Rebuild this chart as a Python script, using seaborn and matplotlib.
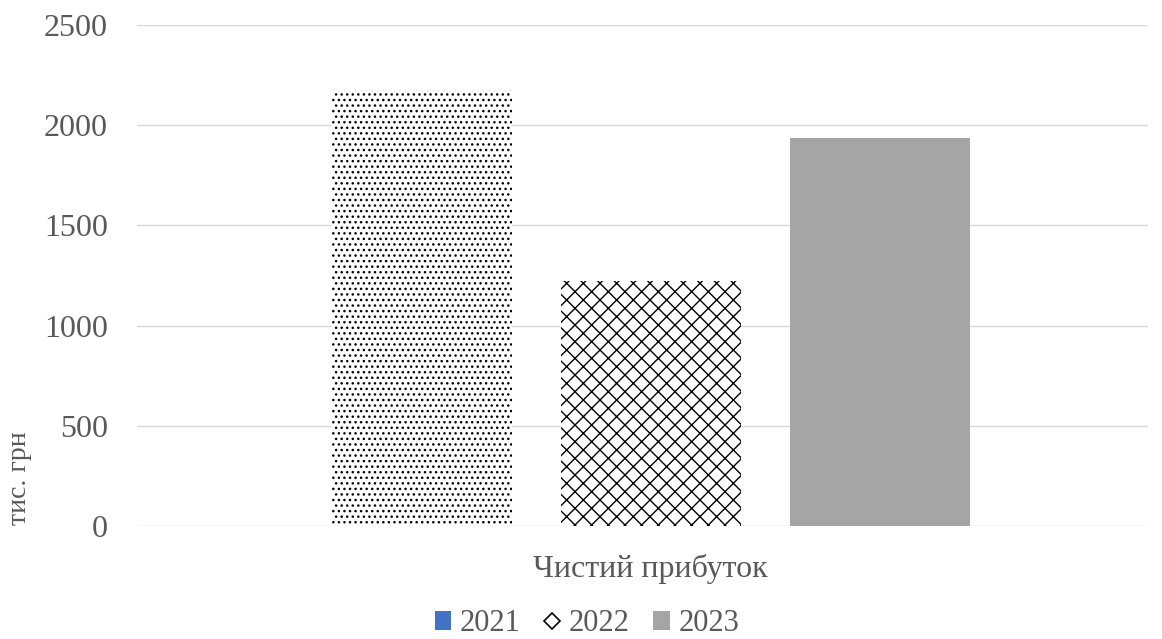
import matplotlib
matplotlib.use("Agg")
import matplotlib.pyplot as plt
import seaborn as sns
import pandas as pd
from matplotlib.lines import Line2D
from matplotlib.patches import Patch

category = ["Чистий прибуток"]
years = ["2021", "2022", "2023"]
values = [2176, 1225, 1935]
y_ticks = [0, 500, 1000, 1500, 2000, 2500]

df = pd.DataFrame({"cat": category * 3, "year": years, "value": values})

sns.set_theme(style="white")
plt.rcParams["font.family"] = ["Liberation Serif", "DejaVu Serif"]
plt.rcParams["hatch.linewidth"] = 1.0
plt.rcParams["hatch.color"] = "black"

fig = plt.figure(figsize=(11.62, 6.39), dpi=100)
ax = fig.add_axes([0.1179, 0.1768, 0.8701, 0.7841])

bar_colors = ["white", "white", "#A5A5A5"]
sns.barplot(data=df, x="cat", y="value", hue="year", palette=bar_colors,
            width=0.8, gap=0.214, ax=ax, legend=False, linewidth=0,
            edgecolor="black")

hatches = ["...", "xx", ""]
for bar, h in zip(ax.patches, hatches):
    bar.set_hatch(h)
    bar.set_linewidth(0)

ax.set_xlim(-0.598, 0.579)
ax.set_ylim(0, 2500)
ax.set_yticks(y_ticks)
ax.yaxis.grid(True, color="#D9D9D9", linewidth=1.0)
ax.set_axisbelow(True)
for s in ax.spines.values():
    s.set_visible(False)
ax.tick_params(axis="y", length=0, pad=21, labelsize=23, labelcolor="#595959")
ax.tick_params(axis="x", length=0, pad=20, labelsize=23, labelcolor="#595959")
ax.set_xlabel("")
ax.set_ylabel("тис. грн", fontsize=20, color="#595959")
ax.yaxis.set_label_coords(-0.104, 0.095)

handles = [
    Patch(facecolor="#4472C4", edgecolor="none"),
    Line2D([0], [0], marker="D", linestyle="none", markersize=8,
           markerfacecolor="white", markeredgecolor="black",
           markeredgewidth=1.2),
    Patch(facecolor="#A5A5A5", edgecolor="none"),
]
fig.legend(handles, years, loc="center", bbox_to_anchor=(0.505, 0.024),
           ncol=3, frameon=False, fontsize=22, labelcolor="#595959",
           handlelength=0.55, handleheight=0.55, handletextpad=0.28,
           columnspacing=0.75, borderpad=0.1)

fig.savefig("out.png", dpi=100)
